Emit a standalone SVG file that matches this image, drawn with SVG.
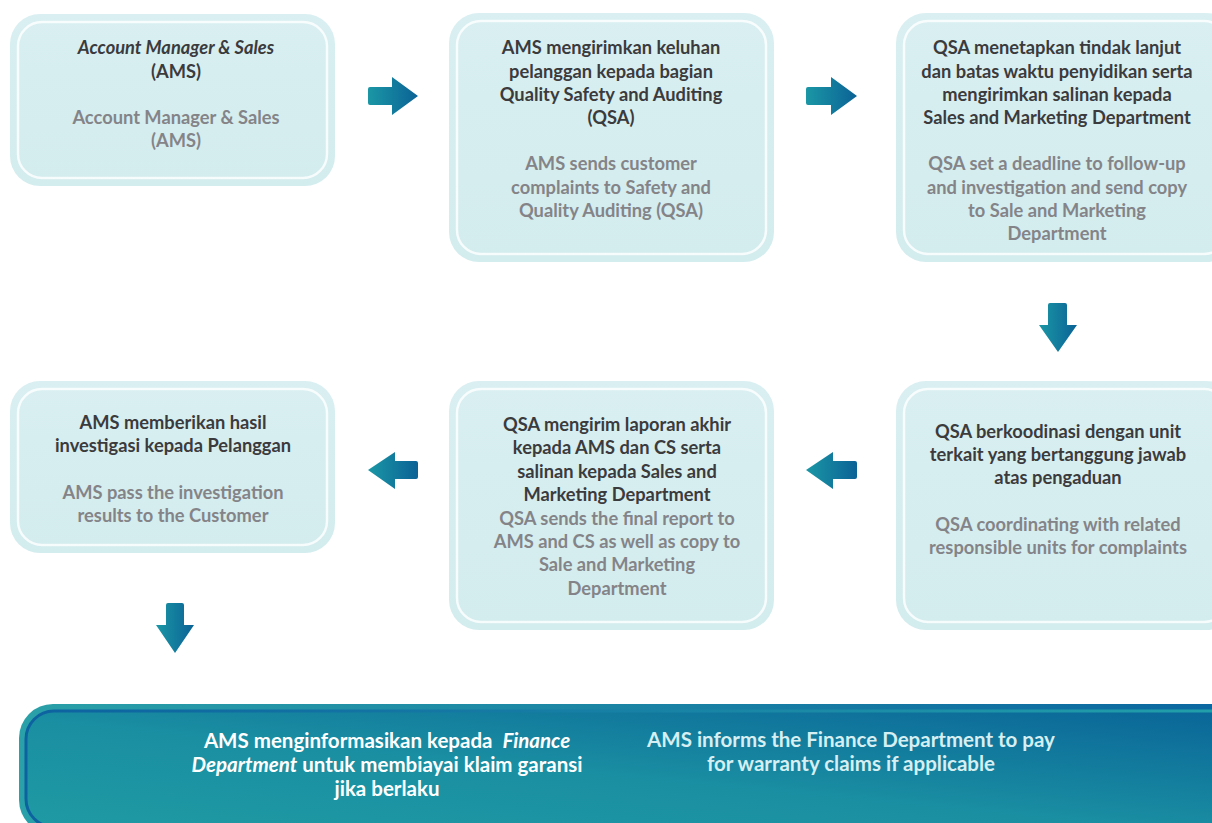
<svg xmlns="http://www.w3.org/2000/svg" width="1212" height="823" viewBox="0 0 1212 823">
<defs>
<linearGradient id="boxg" x1="0" y1="0" x2="0" y2="1">
<stop offset="0" stop-color="#d9eff1"/><stop offset="1" stop-color="#d3ecee"/>
</linearGradient>
<linearGradient id="arrg" x1="0" y1="0" x2="1" y2="0">
<stop offset="0" stop-color="#1b97a5"/><stop offset="1" stop-color="#0b6296"/>
</linearGradient>
<linearGradient id="bang" x1="0" y1="1" x2="1" y2="0">
<stop offset="0" stop-color="#1f9aa3"/><stop offset="0.45" stop-color="#1a8fa2"/><stop offset="1" stop-color="#0a6598"/>
</linearGradient>
<linearGradient id="banouter" x1="0" y1="0" x2="1" y2="0">
<stop offset="0" stop-color="#2aa0a8"/><stop offset="1" stop-color="#0b66a0"/>
</linearGradient>
<linearGradient id="baninner" x1="0" y1="0" x2="1" y2="0">
<stop offset="0" stop-color="#0d62a0"/><stop offset="1" stop-color="#22a0aa"/>
</linearGradient>
</defs>
<style>
.box{fill:url(#boxg);}
.inner{fill:none;stroke:#ffffff;stroke-width:2.5;stroke-opacity:0.8;}
.arr{fill:url(#arrg);}
text{font-family:Lato,"Open Sans","Liberation Sans",sans-serif;font-size:18.3px;font-weight:bold;text-anchor:middle;}
.d{fill:#3b3b3d;}
.g{fill:#848488;}
.w{fill:#ffffff;font-size:20.5px;}
.c{fill:#d6eff2;font-size:20.5px;}
</style>
<rect width="1212" height="823" fill="#ffffff"/>

<g id="node1">
<rect class="box" x="10" y="14" width="325" height="172" rx="30"/>
<rect class="inner" x="18" y="22" width="309" height="156" rx="24"/>
<text class="d" x="176" y="54" font-style="italic" font-size="19.5px">Account Manager &amp; Sales</text>
<text class="d" x="176" y="78">(AMS)</text>
<text class="g" x="176" y="124">Account Manager &amp; Sales</text>
<text class="g" x="176" y="147">(AMS)</text>
</g>

<g id="node2">
<rect class="box" x="449" y="13" width="325" height="249" rx="30"/>
<rect class="inner" x="457" y="21" width="309" height="233" rx="24"/>
<text class="d" x="611" y="54">AMS mengirimkan keluhan</text>
<text class="d" x="611" y="78">pelanggan kepada bagian</text>
<text class="d" x="611" y="101">Quality Safety and Auditing</text>
<text class="d" x="611" y="124">(QSA)</text>
<text class="g" x="611" y="170">AMS sends customer</text>
<text class="g" x="611" y="194">complaints to Safety and</text>
<text class="g" x="611" y="217">Quality Auditing (QSA)</text>
</g>

<g id="node3">
<rect class="box" x="896" y="13" width="340" height="249" rx="30"/>
<rect class="inner" x="904" y="21" width="324" height="233" rx="24"/>
<text class="d" x="1057" y="54">QSA menetapkan tindak lanjut</text>
<text class="d" x="1057" y="78">dan batas waktu penyidikan serta</text>
<text class="d" x="1057" y="101">mengirimkan salinan kepada</text>
<text class="d" x="1057" y="124">Sales and Marketing Department</text>
<text class="g" x="1057" y="170">QSA set a deadline to follow-up</text>
<text class="g" x="1057" y="194">and investigation and send copy</text>
<text class="g" x="1057" y="217">to Sale and Marketing</text>
<text class="g" x="1057" y="240">Department</text>
</g>

<g id="node4">
<rect class="box" x="10" y="381" width="325" height="172" rx="30"/>
<rect class="inner" x="18" y="389" width="309" height="156" rx="24"/>
<text class="d" x="173" y="429">AMS memberikan hasil</text>
<text class="d" x="173" y="452">investigasi kepada Pelanggan</text>
<text class="g" x="173" y="499">AMS pass the investigation</text>
<text class="g" x="173" y="522">results to the Customer</text>
</g>

<g id="node5">
<rect class="box" x="449" y="381" width="325" height="249" rx="30"/>
<rect class="inner" x="457" y="389" width="309" height="233" rx="24"/>
<text class="d" x="617" y="431">QSA mengirim laporan akhir</text>
<text class="d" x="617" y="454">kepada AMS dan CS serta</text>
<text class="d" x="617" y="478">salinan kepada Sales and</text>
<text class="d" x="617" y="501">Marketing Department</text>
<text class="g" x="617" y="525">QSA sends the final report to</text>
<text class="g" x="617" y="548">AMS and CS as well as copy to</text>
<text class="g" x="617" y="571">Sale and Marketing</text>
<text class="g" x="617" y="595">Department</text>
</g>

<g id="node6">
<rect class="box" x="896" y="381" width="340" height="249" rx="30"/>
<rect class="inner" x="904" y="389" width="324" height="233" rx="24"/>
<text class="d" x="1058" y="438">QSA berkoodinasi dengan unit</text>
<text class="d" x="1058" y="461">terkait yang bertanggung jawab</text>
<text class="d" x="1058" y="484">atas pengaduan</text>
<text class="g" x="1058" y="531">QSA coordinating with related</text>
<text class="g" x="1058" y="554">responsible units for complaints</text>
</g>

<g id="node7">
<rect x="19" y="704" width="1230" height="130" rx="34" fill="url(#banouter)"/>
<rect x="26" y="711" width="1216" height="116" rx="28" fill="url(#bang)" stroke="url(#baninner)" stroke-width="3"/>
<text class="w" x="387" y="748">AMS menginformasikan kepada&#160; <tspan font-style="italic">Finance</tspan></text>
<text class="w" x="387" y="772"><tspan font-style="italic">Department</tspan> untuk membiayai klaim garansi</text>
<text class="w" x="387" y="796">jika berlaku</text>
<text class="c" x="851" y="747">AMS informs the Finance Department to pay</text>
<text class="c" x="851" y="771">for warranty claims if applicable</text>
</g>

<g id="connectors">
<path class="arr" d="M370,87 H392 V77 L418,96 L392,115 V105 H370 Q368,105 368,103 V89 Q368,87 370,87 Z"/>
<path class="arr" d="M808,87 H831 V77 L857,96 L831,115 V105 H808 Q806,105 806,103 V89 Q806,87 808,87 Z"/>
<path class="arr" d="M1050,303 H1065 Q1067,303 1067,305 V325 H1077 L1058,352 L1039,325 H1048 V305 Q1048,303 1050,303 Z"/>
<path class="arr" d="M416,461 Q418,461 418,463 V477 Q418,479 416,479 H395 V489 L368,470 L395,452 V461 Z"/>
<path class="arr" d="M855,461 Q857,461 857,463 V477 Q857,479 855,479 H833 V489 L806,470 L833,452 V461 Z"/>
<path class="arr" d="M168,603 H182 Q184,603 184,605 V625 H194 L175,653 L156,625 H166 V605 Q166,603 168,603 Z"/>
</g>
</svg>
